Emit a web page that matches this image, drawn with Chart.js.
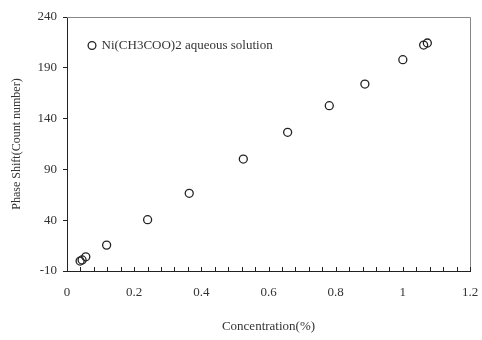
<!DOCTYPE html>
<html>
<head>
<meta charset="utf-8">
<script src="https://cdn.jsdelivr.net/npm/chart.js@4/dist/chart.umd.min.js"></script>
<style>
  html, body { margin: 0; padding: 0; background: #fff; }
  #wrap { width: 482px; height: 340px; }
</style>
</head>
<body>
<div id="wrap"><canvas id="phaseChart"></canvas></div>
<script>
// values
const seriesName = 'Ni(CH3COO)2 aqueous solution';
const concentration = [0.039, 0.045, 0.056, 0.118, 0.240, 0.364, 0.525, 0.657, 0.781, 0.887, 1.000, 1.062, 1.073];
const phaseShift = [-0.2, 0.9, 4.0, 15.5, 40.5, 66.5, 100.2, 126.5, 152.7, 174.0, 198.0, 212.4, 214.4];
const xMin = 0, xMax = 1.2, xMinorStep = 0.04, xLabelStep = 0.2;
const yMin = -10, yMax = 240, yStep = 50;

const serif = "'Liberation Serif', 'Times New Roman', serif";
const textColor = '#333';

// short tick marks pointing into the plot along the x axis, plus the grey frame
const frameAndTicks = {
  id: 'frameAndTicks',
  afterDraw(chart) {
    const {ctx, chartArea: a, scales: {x}} = chart;
    ctx.save();
    ctx.strokeStyle = '#888';
    ctx.lineWidth = 1;
    ctx.beginPath();
    ctx.moveTo(a.left, a.top + 0.5);
    ctx.lineTo(a.right + 0.5, a.top + 0.5);
    ctx.lineTo(a.right + 0.5, a.bottom);
    ctx.stroke();
    ctx.strokeStyle = '#222';
    ctx.beginPath();
    x.ticks.forEach((t, i) => {
      const px = Math.round(x.getPixelForTick(i)) + 0.5;
      ctx.moveTo(px, a.bottom);
      ctx.lineTo(px, a.bottom - 4);
    });
    ctx.stroke();
    ctx.restore();
  }
};

const ctx = document.getElementById('phaseChart').getContext('2d');
const phaseChart = new Chart(ctx, {
  type: 'scatter',
  data: {
    datasets: [{
      label: seriesName,
      data: concentration.map((c, i) => ({x: c, y: phaseShift[i]})),
      borderColor: '#222',
      backgroundColor: 'rgba(255,255,255,0)',
      borderWidth: 1.3,
      pointRadius: 4,
      pointHoverRadius: 4
    }]
  },
  options: {
    responsive: true,
    maintainAspectRatio: false,
    animation: false,
    layout: { padding: { top: 17, right: 12, left: 0, bottom: 0 } },
    plugins: {
      tooltip: { enabled: false },
      legend: {
        position: 'chartArea',
        align: 'start',
        title: {
          display: true,
          text: ' ',
          font: { family: serif, size: 10 },
          padding: { top: 0, bottom: 5 }
        },
        labels: {
          usePointStyle: true,
          pointStyle: 'circle',
          boxWidth: 6,
          boxHeight: 5.5,
          padding: 22,
          color: textColor,
          font: { family: serif, size: 13 }
        }
      }
    },
    scales: {
      x: {
        type: 'linear',
        min: xMin,
        max: xMax,
        afterFit(scale) { scale.height = 69; },
        border: { color: '#222', width: 1 },
        grid: { display: true, drawOnChartArea: false, drawTicks: true, tickLength: 11, tickColor: 'rgba(0,0,0,0)' },
        ticks: {
          stepSize: xMinorStep,
          autoSkip: false,
          maxRotation: 0,
          padding: 3,
          color: textColor,
          font: { family: serif, size: 13 },
          callback(v) {
            const r = v / xLabelStep;
            if (Math.abs(r - Math.round(r)) > 1e-6) return '';
            return String(+v.toFixed(1));
          }
        },
        title: {
          display: true,
          text: 'Concentration(%)',
          color: textColor,
          font: { family: serif, size: 13 },
          padding: { top: 0, bottom: 6 }
        }
      },
      y: {
        type: 'linear',
        min: yMin,
        max: yMax,
        afterFit(scale) { scale.width = 67; },
        border: { color: '#222', width: 1 },
        grid: { drawOnChartArea: false, drawTicks: true, tickLength: 4, color: '#222' },
        ticks: {
          stepSize: yStep,
          padding: 6,
          color: textColor,
          font: { family: serif, size: 13 }
        },
        title: {
          display: true,
          text: 'Phase Shift(Count number)',
          color: textColor,
          font: { family: serif, size: 12 },
          padding: { top: 10, bottom: 0 }
        }
      }
    }
  },
  plugins: [frameAndTicks]
});
</script>
</body>
</html>
